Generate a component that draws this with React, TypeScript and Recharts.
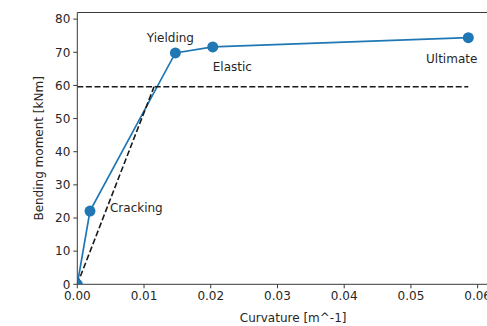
import {
  Label,
  LabelList,
  Line,
  LineChart,
  ReferenceLine,
  XAxis,
  YAxis,
} from "recharts";

// moment-curvature points
const curvature = [0, 0.0019, 0.0147, 0.0203, 0.0586];
const moment = [0, 22.1, 69.8, 71.6, 74.4];
const pointNames = ["", "Cracking", "Yielding", "Elastic", "Ultimate"];

// idealised (dashed) response
const elasticCurvature = [0, 0.0115];
const elasticMoment = [0, 59.6];
const plateauCurvature = [0, 0.0586];
const plateauMoment = [59.6, 59.6];

const xTicks = [0, 0.01, 0.02, 0.03, 0.04, 0.05, 0.06];
const yTicks = [0, 10, 20, 30, 40, 50, 60, 70, 80];

const curve = curvature.map((k, i) => ({ k, m: moment[i], name: pointNames[i] }));
const elastic = elasticCurvature.map((k, i) => ({ k, m: elasticMoment[i] }));
const plateau = plateauCurvature.map((k, i) => ({ k, m: plateauMoment[i] }));

const FONT = "'DejaVu Sans', sans-serif";
const TEXT = "#262626";
const SPINE = "#3a3a3a";
const BLUE = "#1f77b4";
const R = 5.5;

const labelOffsets: Record<string, { dx: number; dy: number; anchor: "start" | "middle" }> = {
  Cracking: { dx: 20, dy: 1, anchor: "start" },
  Yielding: { dx: -5, dy: -11, anchor: "middle" },
  Elastic: { dx: 0, dy: 24, anchor: "start" },
  Ultimate: { dx: -16.6, dy: 25.5, anchor: "middle" },
};

function renderDot(props: any) {
  const { cx, cy, index } = props;
  if (cx == null || cy == null) return <g key={`d-${index}`} />;
  if (index === 0) {
    // marker at the origin is clipped by the axes
    return (
      <path
        key={`d-${index}`}
        d={`M${cx},${cy} L${cx + R},${cy} A${R},${R} 0 0 0 ${cx},${cy - R} Z`}
        fill={BLUE}
      />
    );
  }
  return <circle key={`d-${index}`} cx={cx} cy={cy} r={R} fill={BLUE} />;
}

function renderName(props: any) {
  const { x, y, value, index } = props;
  const o = labelOffsets[value as string];
  if (!o) return null;
  return (
    <text
      key={`n-${index}`}
      x={x + o.dx}
      y={y + o.dy}
      textAnchor={o.anchor}
      fontFamily={FONT}
      fontSize={12}
      fill={TEXT}
    >
      {value}
    </text>
  );
}

export default function App() {
  return (
    <div
      style={{
        position: "absolute",
        left: 0,
        top: 0,
        width: 487,
        height: 326,
        overflow: "hidden",
        background: "#fff",
      }}
    >
      <LineChart
        width={520}
        height={326}
        margin={{ top: 12.5, right: 11, bottom: 0, left: 0 }}
      >
        <XAxis
          type="number"
          dataKey="k"
          domain={[0, 0.0647]}
          ticks={xTicks}
          tickFormatter={(v) => v.toFixed(2)}
          allowDataOverflow
          height={41.7}
          tickSize={4}
          tickMargin={3}
          stroke={SPINE}
          tick={{ fill: TEXT, fontSize: 12, fontFamily: FONT }}
        >
          <Label
            value="Curvature [m^-1]"
            position="insideBottom"
            offset={4}
            style={{ fill: TEXT, fontSize: 12, fontFamily: FONT }}
          />
        </XAxis>
        <YAxis
          type="number"
          dataKey="m"
          domain={[0, 82]}
          ticks={yTicks}
          allowDataOverflow
          width={77.3}
          tickSize={4}
          tickMargin={3}
          stroke={SPINE}
          tick={{ fill: TEXT, fontSize: 12, fontFamily: FONT }}
        >
          <Label
            value="Bending moment [kNm]"
            angle={-90}
            position="insideLeft"
            offset={39}
            style={{ fill: TEXT, fontSize: 12, fontFamily: FONT, textAnchor: "middle" }}
          />
        </YAxis>
        <ReferenceLine y={82} stroke={SPINE} strokeWidth={1} />
        <Line
          data={curve}
          dataKey="m"
          stroke={BLUE}
          strokeWidth={1.7}
          dot={renderDot}
          activeDot={false}
          isAnimationActive={false}
        >
          <LabelList dataKey="name" content={renderName} />
        </Line>
        <Line
          data={elastic}
          dataKey="m"
          stroke="#1a1a1a"
          strokeWidth={1.6}
          strokeDasharray="6 2.6"
          dot={false}
          activeDot={false}
          isAnimationActive={false}
        />
        <Line
          data={plateau}
          dataKey="m"
          stroke="#1a1a1a"
          strokeWidth={1.6}
          strokeDasharray="6 2.6"
          dot={false}
          activeDot={false}
          isAnimationActive={false}
        />
      </LineChart>
    </div>
  );
}
